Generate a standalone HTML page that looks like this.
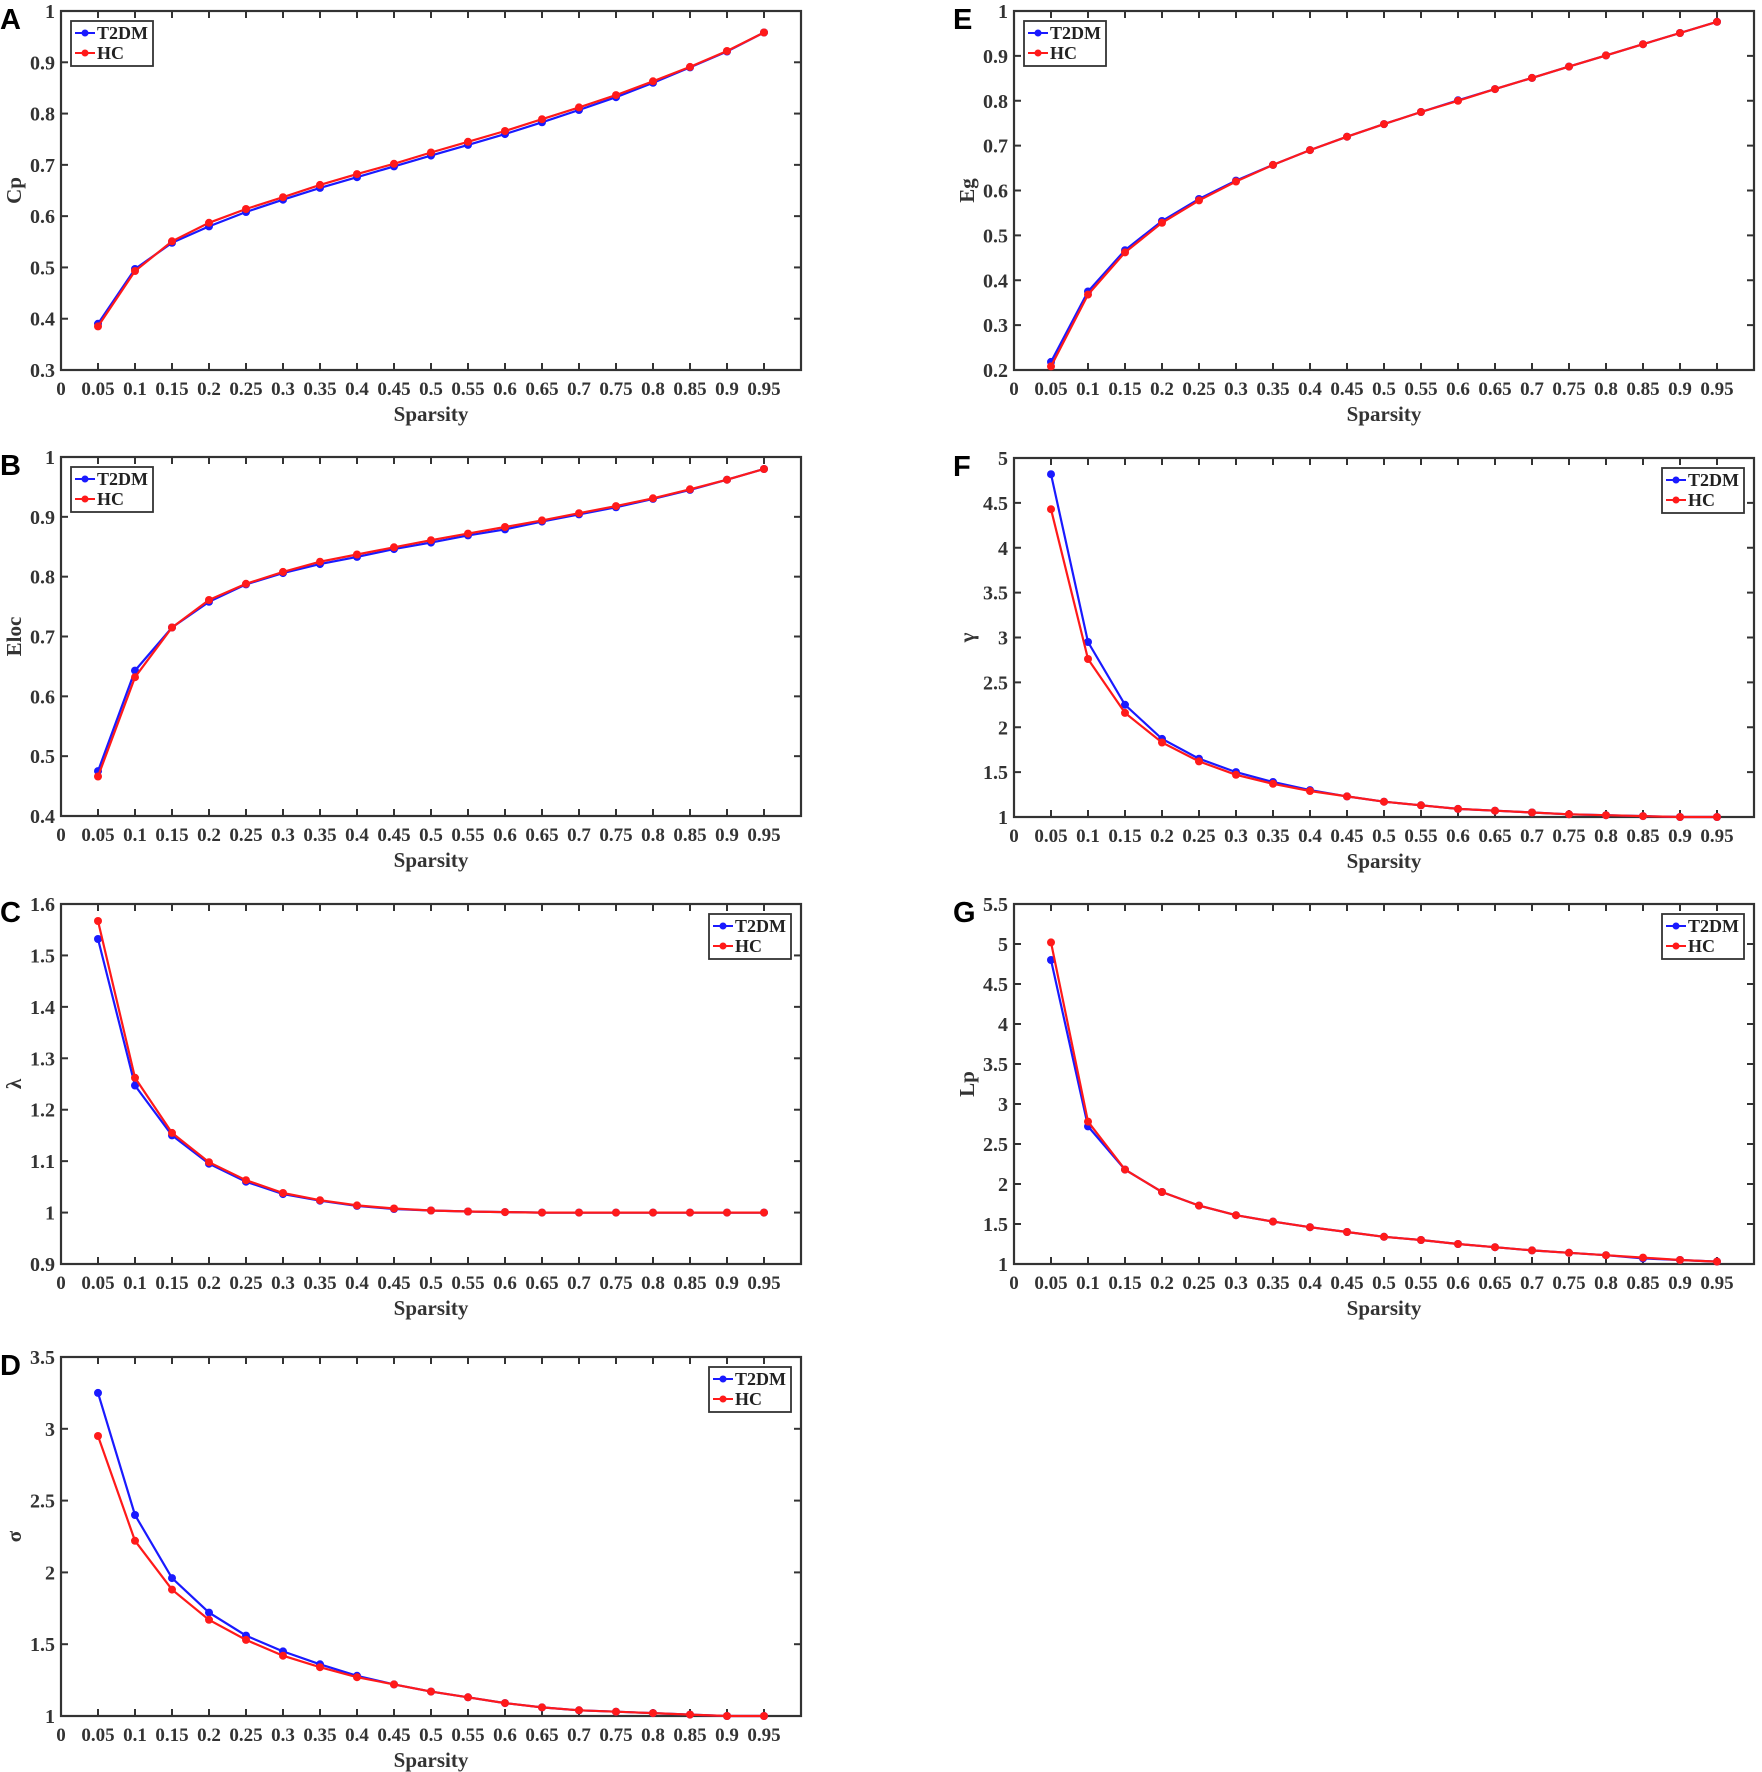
<!DOCTYPE html>
<html><head><meta charset="utf-8"><style>
html,body{margin:0;padding:0;background:#fff;}
svg{display:block;}
</style></head><body>
<svg id="s" width="1762" height="1772" xmlns="http://www.w3.org/2000/svg"></svg>
<script>
const P=[
{L:'A',x0:61,x1:801,y0:11,y1:370,lo:0.3,hi:1,st:0.1,lab:'Cp',leg:'l',
a:[.39,.497,.548,.58,.608,.632,.655,.676,.697,.718,.739,.76,.783,.807,.832,.86,.89,.921,.958],
b:[.385,.493,.551,.587,.614,.637,.661,.682,.702,.724,.745,.766,.789,.812,.836,.863,.891,.922,.958]},
{L:'B',x0:61,x1:801,y0:457,y1:816,lo:0.4,hi:1,st:0.1,lab:'Eloc',leg:'l',
a:[.475,.643,.715,.758,.787,.806,.821,.833,.846,.857,.869,.879,.892,.904,.916,.93,.945,.962,.98],
b:[.466,.632,.715,.761,.788,.808,.825,.837,.849,.861,.872,.883,.894,.906,.918,.931,.946,.962,.98]},
{L:'C',x0:61,x1:801,y0:904,y1:1264,lo:0.9,hi:1.6,st:0.1,lab:'λ',leg:'r',
a:[1.532,1.247,1.15,1.095,1.06,1.036,1.023,1.013,1.007,1.004,1.002,1.001,1,1,1,1,1,1,1],
b:[1.567,1.262,1.155,1.098,1.063,1.038,1.024,1.014,1.008,1.004,1.002,1.001,1,1,1,1,1,1,1]},
{L:'D',x0:61,x1:801,y0:1357,y1:1716,lo:1,hi:3.5,st:0.5,lab:'σ',leg:'r',
a:[3.25,2.4,1.96,1.72,1.56,1.45,1.36,1.28,1.22,1.17,1.13,1.09,1.06,1.04,1.03,1.02,1.01,1,1],
b:[2.95,2.22,1.88,1.67,1.53,1.42,1.34,1.27,1.22,1.17,1.13,1.09,1.06,1.04,1.03,1.02,1.01,1,1]},
{L:'E',x0:1014,x1:1754,y0:11,y1:370,lo:0.2,hi:1,st:0.1,lab:'Eg',leg:'l',
a:[.218,.375,.467,.532,.581,.622,.657,.69,.72,.748,.775,.801,.826,.851,.876,.901,.926,.951,.976],
b:[.208,.368,.462,.528,.578,.62,.657,.69,.72,.748,.775,.8,.826,.851,.876,.901,.926,.951,.976]},
{L:'F',x0:1014,x1:1754,y0:458,y1:817,lo:1,hi:5,st:0.5,lab:'γ',leg:'r',
a:[4.82,2.95,2.25,1.87,1.65,1.5,1.39,1.3,1.23,1.17,1.13,1.09,1.07,1.05,1.03,1.02,1.01,1,1],
b:[4.43,2.76,2.16,1.83,1.62,1.47,1.37,1.29,1.23,1.17,1.13,1.09,1.07,1.05,1.03,1.02,1.01,1,1]},
{L:'G',x0:1014,x1:1754,y0:904,y1:1264,lo:1,hi:5.5,st:0.5,lab:'Lp',leg:'r',
a:[4.8,2.72,2.18,1.9,1.73,1.61,1.53,1.46,1.4,1.34,1.3,1.25,1.21,1.17,1.14,1.11,1.07,1.05,1.03],
b:[5.02,2.78,2.18,1.9,1.73,1.61,1.53,1.46,1.4,1.34,1.3,1.25,1.21,1.17,1.14,1.11,1.08,1.05,1.03]}
];
let h='';const F='font-family="Liberation Serif,serif" font-weight="bold"';
function fmt(v){return (+v.toFixed(2)).toString();}
for(const p of P){
 const X=v=>p.x0+(p.x1-p.x0)*v, Y=v=>p.y1-(p.y1-p.y0)*(v-p.lo)/(p.hi-p.lo);
 h+=`<text x="${p.x0-61}" y="${p.y0+18}" font-family="Liberation Sans,sans-serif" font-weight="bold" font-size="29">${p.L}</text>`;
 for(let i=0;i<=19;i++){const v=i*0.05,x=X(v);
  if(i>0)h+=`<line x1="${x}" y1="${p.y1}" x2="${x}" y2="${p.y1-7}" stroke="#333" stroke-width="2"/><line x1="${x}" y1="${p.y0}" x2="${x}" y2="${p.y0+7}" stroke="#333" stroke-width="2"/>`;
  h+=`<text x="${x}" y="${p.y1+25}" ${F} font-size="19" text-anchor="middle" fill="#333">${fmt(v)}</text>`;}
 const n=Math.round((p.hi-p.lo)/p.st);
 for(let i=0;i<=n;i++){const v=p.lo+i*p.st,y=Y(v);
  if(i>0&&i<n)h+=`<line x1="${p.x0}" y1="${y}" x2="${p.x0+7}" y2="${y}" stroke="#333" stroke-width="2"/><line x1="${p.x1}" y1="${y}" x2="${p.x1-7}" y2="${y}" stroke="#333" stroke-width="2"/>`;
  h+=`<text x="${p.x0-6}" y="${y+7}" ${F} font-size="20" text-anchor="end" fill="#333">${fmt(v)}</text>`;}
 h+=`<rect x="${p.x0}" y="${p.y0}" width="${p.x1-p.x0}" height="${p.y1-p.y0}" fill="none" stroke="#333" stroke-width="2.2"/>`;
 h+=`<text x="${(p.x0+p.x1)/2}" y="${p.y1+51}" ${F} font-size="21" text-anchor="middle" fill="#333">Sparsity</text>`;
 const ly=(p.y0+p.y1)/2;
 h+=`<text transform="translate(${p.x0-40},${ly}) rotate(-90)" ${F} font-size="21" text-anchor="middle" fill="#333">${p.lab}</text>`;
 for(const [d,c] of [[p.a,'#1a1aff'],[p.b,'#ff1a1a']]){
  const pts=d.map((v,i)=>`${X((i+1)*0.05).toFixed(1)},${Y(v).toFixed(1)}`);
  h+=`<polyline points="${pts.join(' ')}" fill="none" stroke="${c}" stroke-width="2.2"/>`;
  pts.forEach(q=>{const[a,b]=q.split(',');h+=`<circle cx="${a}" cy="${b}" r="4" fill="${c}"/>`;});}
 const lx=p.leg==='l'?p.x0+10:p.x1-92, lyy=p.y0+10;
 h+=`<rect x="${lx}" y="${lyy}" width="82" height="45" fill="#fff" stroke="#333" stroke-width="1.8"/>`;
 [['T2DM','#1a1aff'],['HC','#ff1a1a']].forEach(([t,c],k)=>{const yy=lyy+12+k*20;
  h+=`<line x1="${lx+4}" y1="${yy}" x2="${lx+24}" y2="${yy}" stroke="${c}" stroke-width="2"/><circle cx="${lx+14}" cy="${yy}" r="3.5" fill="${c}"/><text x="${lx+26}" y="${yy+6}" ${F} font-size="18" fill="#222">${t}</text>`;});
}
document.getElementById('s').innerHTML=h;
</script>
</body></html>
